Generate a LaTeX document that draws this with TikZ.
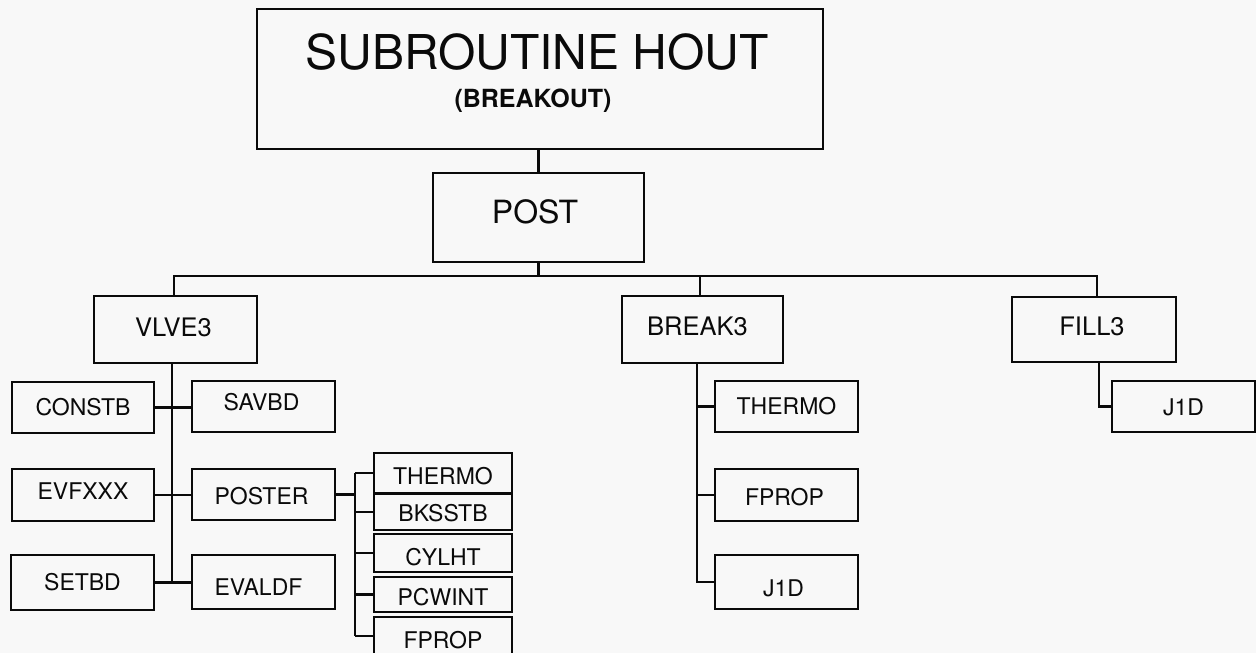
\documentclass[tikz,border=0pt]{standalone}
\usepackage{fontspec}
\setmainfont{TeX Gyre Heros}
\newcommand{\tx}[3]{\raisebox{#2}{\hspace*{#1}#3\hspace*{-#1}}}
\definecolor{bgc}{RGB}{248,248,248}
\definecolor{ink}{RGB}{10,10,10}
\tikzset{
  box/.style={draw=ink, text=ink, line width=2.2pt, inner sep=0pt},
  sm/.style={box, font=\fontsize{23}{23}\selectfont, text height=16.5pt, text depth=0pt},
  md/.style={box, font=\fontsize{25.5}{25.5}\selectfont, text height=18.3pt, text depth=0pt},
  conn/.style={draw=ink, line width=2.2pt},
}
\begin{document}
\begin{tikzpicture}[x=1pt,y=-1pt]
\fill[bgc] (0,0) rectangle (1256,653);
\useasboundingbox (0,0) rectangle (1256,653);

% top levels
\node[box, minimum width=566pt, minimum height=140pt, font=\fontsize{48}{48}\selectfont, text height=34.5pt, text depth=0pt] (top) at (540,79) {\tx{-3pt}{26.5pt}{SUBROUTINE HOUT}};
\node[text=ink, font=\bfseries\fontsize{25}{25}\selectfont, inner sep=0pt, anchor=base] (brk) at (533,107) {(BREAKOUT)};
\node[box, minimum width=211pt, minimum height=89pt, font=\fontsize{32}{32}\selectfont, text height=23pt, text depth=0pt] (post) at (538.5,217.5) {\tx{-3.5pt}{6pt}{POST}};

\node[md, minimum width=163pt, minimum height=67pt] (vlve) at (175.5,329.5) {\tx{-2pt}{2pt}{VLVE3}};
\node[md, minimum width=161pt, minimum height=67pt] (brk3) at (702.5,329.5) {\tx{-5pt}{3pt}{BREAK3}};
\node[md, minimum width=164pt, minimum height=65pt] (fill) at (1094,329.5) {\tx{-2pt}{3pt}{FILL3}};

% VLVE3 children
\node[sm, minimum width=142pt, minimum height=51pt] (constb) at (83,407.5) {CONSTB};
\node[sm, minimum width=143pt, minimum height=51pt] (savbd) at (263.5,406.5) {\tx{-2pt}{4pt}{SAVBD}};
\node[sm, minimum width=142pt, minimum height=52pt] (evfxxx) at (83,495) {\tx{0pt}{4pt}{EVFXXX}};
\node[sm, minimum width=143pt, minimum height=51pt] (poster) at (263.5,494.5) {\tx{-2pt}{-2pt}{POSTER}};
\node[sm, minimum width=143pt, minimum height=55pt] (setbd) at (82.5,582.5) {SETBD};
\node[sm, minimum width=143pt, minimum height=54pt] (evaldf) at (263.5,582) {\tx{-5pt}{-5pt}{EVALDF}};

% POSTER children
\node[sm, minimum width=138pt, minimum height=40pt] (pthermo) at (443,473) {\tx{0pt}{-3pt}{THERMO}};
\node[sm, minimum width=138pt, minimum height=36pt] (pbksstb) at (443,512) {\tx{0pt}{-1pt}{BKSSTB}};
\node[sm, minimum width=138pt, minimum height=38pt] (pcylht) at (443,553) {\tx{0pt}{-4pt}{CYLHT}};
\node[sm, minimum width=138pt, minimum height=35pt] (ppcwint) at (443,594.5) {\tx{0pt}{-3pt}{PCWINT}};
\node[sm, minimum width=138pt, minimum height=38pt] (pfprop) at (443,636) {\tx{0pt}{-4pt}{FPROP}};

% BREAK3 children
\node[sm, minimum width=143pt, minimum height=51pt] (bthermo) at (786.5,406.5) {THERMO};
\node[sm, minimum width=143pt, minimum height=52pt] (bfprop) at (786.5,495) {\tx{-2pt}{-2pt}{FPROP}};
\node[sm, minimum width=143pt, minimum height=54pt] (bj1d) at (786.5,582) {\tx{-3pt}{-6pt}{J1D}};

% FILL3 child
\node[sm, minimum width=143pt, minimum height=51pt] (fj1d) at (1183.5,406.5) {\tx{0pt}{-1pt}{J1D}};

% helper coordinates
\coordinate (bus) at (0,276);
\coordinate (vdrop) at (174,0);
\coordinate (bdrop) at (700,0);
\coordinate (fdrop) at (1097,0);
\coordinate (vsp) at (172,0);
\coordinate (psp) at (355,0);
\coordinate (bsp) at (697,0);
\coordinate (fsp) at (1099,0);

% connectors
\draw[conn] (post.north |- top.south) -- (post.north);
\draw[conn] (post.south) -- (post.south |- bus);
\draw[conn] (vdrop |- vlve.north) -- (vdrop |- bus) -- (fdrop |- bus) -- (fdrop |- fill.north);
\draw[conn] (bdrop |- bus) -- (bdrop |- brk3.north);

\draw[conn] (vsp |- vlve.south) -- (vsp |- setbd.east);
\draw[conn] (constb.east) -- (constb.east -| savbd.west);
\draw[conn] (evfxxx.east) -- (evfxxx.east -| poster.west);
\draw[conn] (setbd.east) -- (setbd.east -| evaldf.west);

\draw[conn] (poster.east) -- (poster.east -| psp);
\draw[conn] (psp |- pthermo.west) -- (psp |- pfprop.west);
\foreach \n in {pthermo,pbksstb,pcylht,ppcwint,pfprop}
  \draw[conn] (psp |- \n.west) -- (\n.west);

\draw[conn] (bsp |- brk3.south) -- (bsp |- bj1d.west) -- (bj1d.west);
\draw[conn] (bsp |- bthermo.west) -- (bthermo.west);
\draw[conn] (bsp |- bfprop.west) -- (bfprop.west);

\draw[conn] (fsp |- fill.south) -- (fsp |- fj1d.west) -- (fj1d.west);
\end{tikzpicture}
\end{document}
